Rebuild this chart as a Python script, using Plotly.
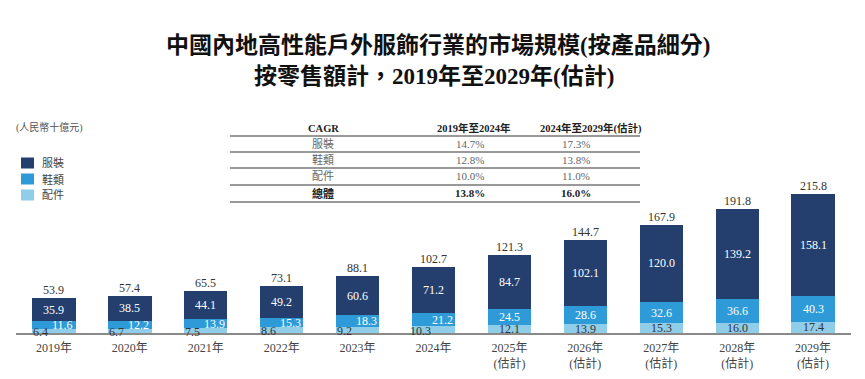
import plotly.graph_objects as go

years = ["2019", "2020", "2021", "2022", "2023", "2024", "2025", "2026", "2027", "2028", "2029"]
tick_labels = ["2019年", "2020年", "2021年", "2022年", "2023年", "2024年",
               "2025年<br>(估計)", "2026年<br>(估計)", "2027年<br>(估計)", "2028年<br>(估計)", "2029年<br>(估計)"]
apparel = [35.9, 38.5, 44.1, 49.2, 60.6, 71.2, 84.7, 102.1, 120.0, 139.2, 158.1]
footwear = [11.6, 12.2, 13.9, 15.3, 18.3, 21.2, 24.5, 28.6, 32.6, 36.6, 40.3]
accessories = [6.4, 6.7, 7.5, 8.6, 9.2, 10.3, 12.1, 13.9, 15.3, 16.0, 17.4]
totals = [53.9, 57.4, 65.5, 73.1, 88.1, 102.7, 121.3, 144.7, 167.9, 191.8, 215.8]

series_names = ["服裝", "鞋類", "配件"]
cagr_rows = ["服裝", "鞋類", "配件", "總體"]
cagr_2019_2024 = ["14.7%", "12.8%", "10.0%", "13.8%"]
cagr_2024_2029 = ["17.3%", "13.8%", "11.0%", "16.0%"]

C_APP = "#243F6E"
C_FOOT = "#2E9BD8"
C_ACC = "#8FCDE9"
FAM = "Liberation Serif, Noto Sans CJK TC, serif"

# page has an 8px body margin; build figure so page positions match
OFF = 8
W, H = 857, 371
L, R, T, B = 8, 14, 10, 46
PW, PH = W - L - R, H - T - B
SCALE = 0.645  # px per unit


def px(xp):
    return (xp - OFF - L) / PW


def py(yp):
    return (H - B - (yp - OFF)) / PH


def pann(xp, yp, text, size, color, xanchor="center"):
    return dict(xref="paper", yref="paper", x=px(xp), y=py(yp), text=text, showarrow=False,
                xanchor=xanchor, yanchor="middle",
                font=dict(family=FAM, size=size, color=color))


fig = go.Figure()
fig.add_trace(go.Bar(x=years, y=accessories, name=series_names[2], marker_color=C_ACC, marker_line_width=0))
fig.add_trace(go.Bar(x=years, y=footwear, name=series_names[1], marker_color=C_FOOT, marker_line_width=0))
fig.add_trace(go.Bar(x=years, y=apparel, name=series_names[0], marker_color=C_APP, marker_line_width=0))

ann = []
for i, yr in enumerate(years):
    a, f, p = accessories[i], footwear[i], apparel[i]
    small = i < 6
    ann.append(dict(x=i, y=a + f + p / 2, text=f"{p:.1f}", showarrow=False,
                    xanchor="center", yanchor="middle",
                    font=dict(family=FAM, size=12, color="white")))
    ann.append(dict(x=i, y=a + f / 2, text=f"{f:.1f}", showarrow=False,
                    xanchor="center", yanchor="middle",
                    xshift=9 if small else 0,
                    font=dict(family=FAM, size=12, color="white")))
    ann.append(dict(x=i, y=a / 2, text=f"{a:.1f}", showarrow=False,
                    xanchor="center", yanchor="middle",
                    xshift=-13 if small else 0, yshift=-1 if small else 0,
                    font=dict(family=FAM, size=12, color="#333333")))
    ann.append(dict(x=i, y=totals[i], text=f"{totals[i]:.1f}", showarrow=False,
                    xanchor="center", yanchor="bottom", yshift=-1,
                    font=dict(family=FAM, size=12, color="#333333")))

# titles
ann.append(pann(438, 45, "<b>中國內地高性能戶外服飾行業的市場規模(按產品細分)</b>", 23, "#111111"))
ann.append(pann(434, 76, "<b>按零售額計，2019年至2029年(估計)</b>", 23, "#111111"))
# unit
ann.append(pann(14, 127, "(人民幣十億元)", 10, "#555555", xanchor="left"))

# manual legend
shapes = []
leg_colors = [C_APP, C_FOOT, C_ACC]
leg_y = [163, 179, 195]
for k, nm in enumerate(series_names):
    shapes.append(dict(type="rect", xref="paper", yref="paper",
                       x0=px(21), x1=px(34), y0=py(leg_y[k] - 5.5), y1=py(leg_y[k] + 5.5),
                       fillcolor=leg_colors[k], line=dict(width=0)))
    ann.append(pann(40, leg_y[k], nm, 11, "#444444", xanchor="left"))

# CAGR table
HS = 10.5
ann.append(pann(323, 128, "<b>CAGR</b>", HS, "#222222"))
ann.append(pann(474, 128, "<b>2019年至2024年</b>", HS, "#222222"))
ann.append(pann(538, 128, "<b>2024年至2029年(估計)</b>", HS, "#222222", xanchor="left"))
row_y = [144, 160, 176, 193]
for j, lab in enumerate(cagr_rows):
    bold = j == len(cagr_rows) - 1
    col = "#222222" if bold else "#666666"
    fmt = (lambda s: f"<b>{s}</b>") if bold else (lambda s: s)
    ann.append(pann(323, row_y[j], fmt(lab), 11, col))
    ann.append(pann(470, row_y[j], fmt(cagr_2019_2024[j]), 11, col))
    ann.append(pann(576, row_y[j], fmt(cagr_2024_2029[j]), 11, col))

for ly in [136, 152, 168, 185, 202]:
    shapes.append(dict(type="line", xref="paper", yref="paper", x0=px(230), x1=px(640),
                       y0=py(ly), y1=py(ly), line=dict(color="#777777", width=1.6)))

fig.update_layout(
    width=W, height=H,
    margin=dict(l=L, r=R, t=T, b=B, autoexpand=False),
    barmode="stack", bargap=0.43,
    plot_bgcolor="white", paper_bgcolor="white",
    showlegend=False,
    xaxis=dict(type="category", range=[-0.5, len(years) - 0.5], autorange=False,
               tickmode="array", tickvals=years, ticktext=tick_labels,
               showline=True, linecolor="#8a8a8a", linewidth=2, ticks="", showgrid=False,
               ticklabelstandoff=3,
               tickfont=dict(family=FAM, size=12, color="#444444"), fixedrange=True,
               automargin=False),
    yaxis=dict(range=[0, PH / SCALE], visible=False, showgrid=False, fixedrange=True),
    annotations=ann,
    shapes=shapes,
)

fig.write_html("out.html")
